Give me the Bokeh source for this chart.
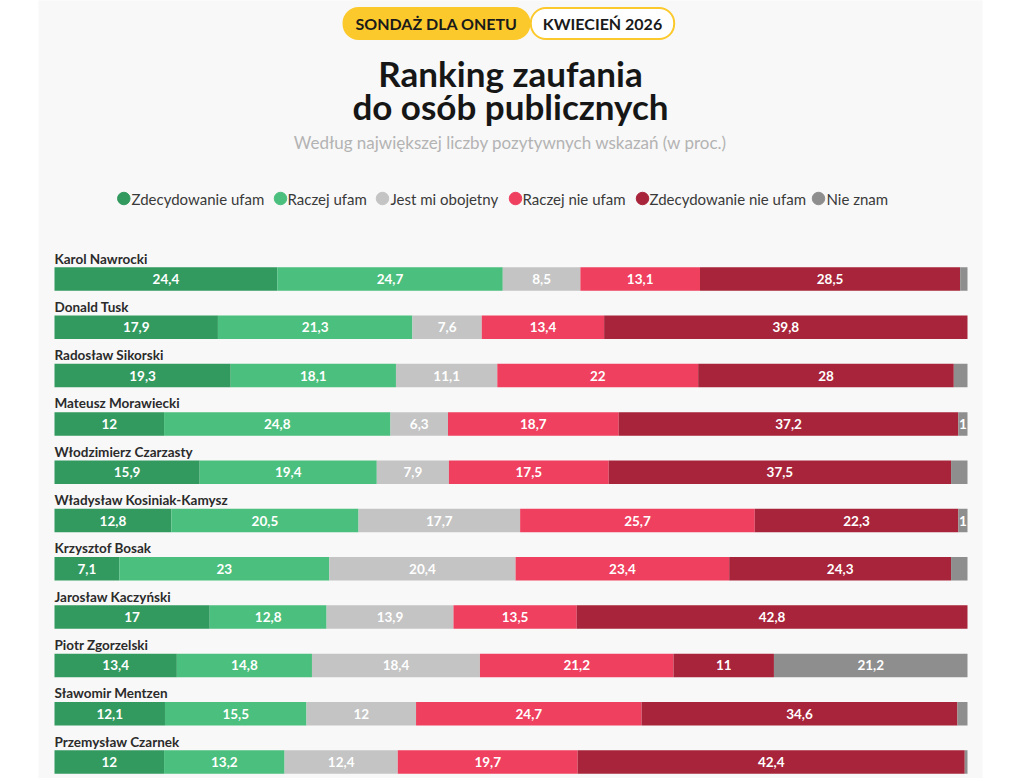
import pandas as pd
from bokeh.plotting import figure
from bokeh.models import ColumnDataSource, Range1d, Label
from bokeh.core.properties import value
from bokeh.embed import file_html
from bokeh.resources import INLINE

# ---------------- data ----------------
names = ["Karol Nawrocki", "Donald Tusk", "Radosław Sikorski", "Mateusz Morawiecki",
         "Włodzimierz Czarzasty", "Władysław Kosiniak-Kamysz", "Krzysztof Bosak",
         "Jarosław Kaczyński", "Piotr Zgorzelski", "Sławomir Mentzen", "Przemysław Czarnek"]
categories = ["Zdecydowanie ufam", "Raczej ufam", "Jest mi obojetny",
              "Raczej nie ufam", "Zdecydowanie nie ufam", "Nie znam"]
zdecydowanie_ufam = [24.4, 17.9, 19.3, 12, 15.9, 12.8, 7.1, 17, 13.4, 12.1, 12]
raczej_ufam = [24.7, 21.3, 18.1, 24.8, 19.4, 20.5, 23, 12.8, 14.8, 15.5, 13.2]
obojetny = [8.5, 7.6, 11.1, 6.3, 7.9, 17.7, 20.4, 13.9, 18.4, 12, 12.4]
raczej_nie_ufam = [13.1, 13.4, 22, 18.7, 17.5, 25.7, 23.4, 13.5, 21.2, 24.7, 19.7]
zdecydowanie_nie_ufam = [28.5, 39.8, 28, 37.2, 37.5, 22.3, 24.3, 42.8, 11, 34.6, 42.4]
nie_znam = [0.8, 0, 1.5, 1, 1.8, 1, 1.8, 0, 21.2, 1.1, 0.3]
series = [zdecydowanie_ufam, raczej_ufam, obojetny, raczej_nie_ufam,
          zdecydowanie_nie_ufam, nie_znam]
colors = ["#329a5f", "#4bbf7d", "#c4c4c4", "#ef405f", "#a8243a", "#8e8e8e"]

badge_1 = "SONDAŻ DLA ONETU"
badge_2 = "KWIECIEŃ 2026"
title_1 = "Ranking zaufania"
title_2 = "do osób publicznych"
subtitle = "Według największej liczby pozytywnych wskazań (w proc.)"

FONT = "Lato"

# ---------------- layout helpers (page pixel -> data units) ----------------
W, H = 1010, 778
PX = 913 / 100.0        # pixels per percent
ROW = 48.3              # pixels per row
BAR_H = 23.5 / ROW


def fx(page_x):
    return (page_x - 54) / PX


def fy(page_y):
    return (page_y - 278.5) / ROW


p = figure(width=W, height=H, output_backend="svg", toolbar_location=None,
           x_range=Range1d(fx(38), fx(982)), y_range=Range1d(fy(H), fy(0)),
           min_border_left=38, min_border_right=W - 982, min_border_top=0,
           min_border_bottom=0)
p.background_fill_color = "#f8f8f8"
p.border_fill_color = "#ffffff"
p.outline_line_color = None
p.xaxis.visible = False
p.yaxis.visible = False
p.grid.visible = False

# ---------------- bars ----------------
df = pd.DataFrame({c: s for c, s in zip(categories, series)})
df["row"] = list(range(len(names)))
df["name"] = names
src = ColumnDataSource(df)
p.hbar_stack(categories, y="row", height=BAR_H, color=colors, line_color=None,
             source=src)

# value labels
cum = df[categories].cumsum(axis=1)
lab_x, lab_y, lab_t = [], [], []
for ci, c in enumerate(categories):
    for ri in range(len(names)):
        v = df.loc[ri, c]
        if v <= 0:
            continue
        s = f"{v:g}".replace(".", ",")
        if len(s) * 6 > v * PX:
            continue
        lab_x.append(cum.loc[ri, c] - v / 2)
        lab_y.append(ri)
        lab_t.append(s)
p.text(x=lab_x, y=lab_y, text=lab_t, text_align="center", text_baseline="middle",
       text_color="white", text_font=value(FONT), text_font_size="13.5px",
       text_font_style="bold")

# row names
p.text(x=[0] * len(names), y=[r - 20.5 / ROW for r in df["row"]], text=names,
       text_align="left", text_baseline="middle", text_color="#2b2b2b",
       text_font=value(FONT), text_font_size="13.5px", text_font_style="bold")

# ---------------- legend (manual) ----------------
leg_dot_x = [123.3, 280, 382, 515, 642, 818]
leg_txt_x = [131, 287, 390, 522, 649, 826]
p.scatter(x=[fx(v) for v in leg_dot_x], y=[fy(198)] * 6, size=12.5,
          color=colors, marker="circle")
p.text(x=[fx(v) for v in leg_txt_x], y=[fy(198.5)] * 6, text=categories,
       text_align="left", text_baseline="middle", text_color="#3a3a3a",
       text_font=value(FONT), text_font_size="15px")

# ---------------- header ----------------
p.add_layout(Label(x=fx(436), y=fy(23), text=badge_1, text_align="center",
                   text_baseline="middle", text_font=FONT, text_font_size="16px",
                   text_font_style="bold", text_color="#1a1a1a",
                   background_fill_color="#fcc92c", border_line_color="#fcc92c",
                   border_line_width=2, border_radius=15, padding=(12, 6)))
p.add_layout(Label(x=fx(602), y=fy(23), text=badge_2, text_align="center",
                   text_baseline="middle", text_font=FONT, text_font_size="16px",
                   text_font_style="bold", text_color="#1a1a1a",
                   background_fill_color="#ffffff", border_line_color="#fcc92c",
                   border_line_width=2, border_radius=15, padding=(12, 6)))
p.add_layout(Label(x=fx(510), y=fy(72), text=title_1, text_align="center",
                   text_baseline="middle", text_font=FONT, text_font_size="35px",
                   text_font_style="bold", text_color="#161616"))
p.add_layout(Label(x=fx(510), y=fy(105), text=title_2, text_align="center",
                   text_baseline="middle", text_font=FONT, text_font_size="35px",
                   text_font_style="bold", text_color="#161616"))
p.add_layout(Label(x=fx(510), y=fy(142), text=subtitle, text_align="center",
                   text_baseline="middle", text_font=FONT, text_font_size="17px",
                   text_color="#b3b3b3"))

open("out.html", "w").write(file_html(p, INLINE))
